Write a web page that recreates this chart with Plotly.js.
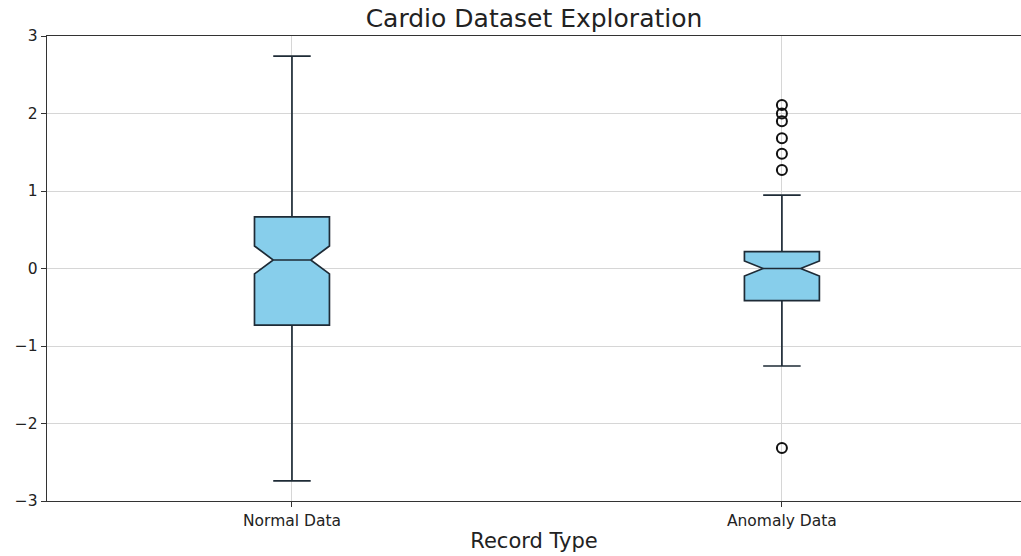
<!DOCTYPE html>
<html>
<head>
<meta charset="utf-8">
<script src="https://cdn.plot.ly/plotly-3.0.1.min.js"></script>
<style>html,body{margin:0;padding:0;background:#fff;}#chart{width:1021px;height:556px;}</style>
</head>
<body>
<div id="chart"></div>
<script>
// Record types (x categories)
const categories = ['Normal Data', 'Anomaly Data'];
// Box statistics
const q1 = [-0.73, -0.415];
const median = [0.11, 0.0];
const q3 = [0.665, 0.217];
const lowerFence = [-2.74, -1.258];
const upperFence = [2.74, 0.948];
const notchSpan = [0.18, 0.097];
// Outliers (fliers)
const outlierCat = ['Anomaly Data', 'Anomaly Data', 'Anomaly Data', 'Anomaly Data', 'Anomaly Data', 'Anomaly Data', 'Anomaly Data'];
const outlierVal = [2.11, 2.00, 1.90, 1.68, 1.48, 1.27, -2.315];
// Y tick values
const yTicks = [-3, -2, -1, 0, 1, 2, 3];

const boxTrace = {
  type: 'box',
  x: categories,
  q1: q1,
  median: median,
  q3: q3,
  lowerfence: lowerFence,
  upperfence: upperFence,
  notched: true,
  notchspan: notchSpan,
  notchwidth: 0.25,
  width: 0.153,
  whiskerwidth: 0.5,
  fillcolor: '#87CEEB',
  line: {color: '#1e2b36', width: 1.7},
  boxpoints: false,
  showlegend: false,
  hoverinfo: 'skip'
};

const fliers = {
  type: 'scatter',
  mode: 'markers',
  x: outlierCat,
  y: outlierVal,
  marker: {symbol: 'circle-open', size: 10, color: '#111', line: {width: 2, color: '#111'}},
  showlegend: false,
  hoverinfo: 'skip'
};

const layout = {
  width: 1021,
  height: 556,
  margin: {l: 47, r: 0, t: 36, b: 55, pad: 0},
  paper_bgcolor: '#fff',
  plot_bgcolor: '#fff',
  font: {family: 'DejaVu Sans, sans-serif', color: '#222'},
  title: {
    text: 'Cardio Dataset Exploration',
    font: {size: 25, color: '#222'},
    x: 0.5, xref: 'paper', xanchor: 'center',
    y: 1 - 18 / 556, yref: 'container', yanchor: 'middle'
  },
  xaxis: {
    type: 'category',
    range: [-0.5, 1.488],
    showline: true, mirror: true, linecolor: '#333', linewidth: 1.3,
    ticks: 'outside', ticklen: 5, tickcolor: '#333',
    tickfont: {size: 15.5, color: '#222'},
    showgrid: true, gridcolor: '#d6d6d6', gridwidth: 1,
    zeroline: false,
    title: {text: 'Record Type', font: {size: 21, color: '#222'}, standoff: 4}
  },
  yaxis: {
    range: [-3, 3],
    tickvals: yTicks,
    showline: true, mirror: false, linecolor: '#333', linewidth: 1.3,
    ticks: 'outside', ticklen: 5, tickcolor: '#333',
    tickfont: {size: 15.5, color: '#222'},
    showgrid: true, gridcolor: '#d6d6d6', gridwidth: 1,
    zeroline: false
  }
};

Plotly.newPlot('chart', [boxTrace, fliers], layout, {displayModeBar: false, staticPlot: true});
</script>
</body>
</html>
